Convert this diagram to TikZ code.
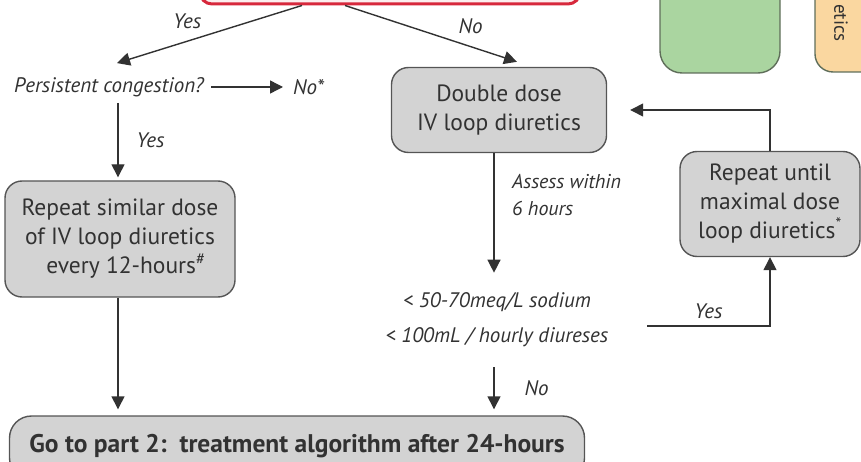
\documentclass[tikz,border=0pt]{standalone}
\usepackage{fontspec}
\setmainfont{PT Sans}
\usepackage{tikz}
\usetikzlibrary{arrows.meta,positioning,calc}
\definecolor{boxG}{RGB}{211,211,211}
\definecolor{edgeG}{RGB}{85,85,85}
\definecolor{alarmR}{RGB}{215,40,60}
\definecolor{leafG}{RGB}{170,213,160}
\definecolor{leafE}{RGB}{95,110,90}
\definecolor{sandO}{RGB}{250,215,160}
\definecolor{inkG}{RGB}{50,50,50}

\begin{document}
\begin{tikzpicture}[x=1pt, y=-1pt, >={Triangle[length=13pt,width=13pt]},
    stepbox/.style={draw=edgeG, line width=1.4pt, fill=boxG, rounded corners=17pt,
      align=center, text=inkG, font=\fontsize{23.5}{29}\selectfont, inner sep=2pt},
    lbl/.style={font=\fontsize{21}{25}\selectfont\itshape, text=inkG, inner sep=0pt},
    arr/.style={->, line width=1.4pt, draw=inkG}]
  \useasboundingbox (0,0) rectangle (861,462);
  % cut-off boxes along the top edge
  \node[draw=alarmR, line width=3pt, fill=alarmR!8, rounded corners=12pt,
        minimum width=380pt, minimum height=50pt] (top) at (390,-21) {};
  \fill[leafG, draw=leafE, line width=1.4pt, rounded corners=22pt] (660,-40) rectangle (780,73);
  \fill[sandO, draw=leafE, line width=1.4pt, rounded corners=18pt] (815,-40) rectangle (890,72);
  \node[rotate=-90, anchor=west, font=\fontsize{19}{20}\selectfont, text=inkG] (side) at (841,0.5) {etics};
  % main nodes
  \node[lbl] (q) at (109,87) {Persistent congestion?};
  \node[lbl, anchor=west] (nostar) at (293,87) {No*};
  \node[stepbox, minimum width=230pt, minimum height=116pt] (rep) at (120,239)
    {Repeat similar dose\\of IV loop diuretics\\\hspace*{12pt}every 12-hours\textsuperscript{\#}};
  \node[stepbox, minimum width=215pt, minimum height=85pt] (dbl) at (499,110)
    {Double dose\\IV loop diuretics};
  \node[lbl, align=center, font=\fontsize{21}{35}\selectfont\itshape] (crit) at (497,320)
    {< 50-70meq/L sodium\\< 100mL / hourly diureses};
  \node[stepbox, minimum width=180pt, minimum height=105pt] (until) at (770,204)
    {Repeat until\\maximal dose\\loop diuretics\textsuperscript{*}};
  \node[stepbox, font=\fontsize{25.5}{30}\selectfont\bfseries, minimum width=575pt,
        minimum height=64pt, rounded corners=22pt] (go) at (297,448)
    {\raisebox{10pt}{Go to part 2:\ \ treatment algorithm after 24-hours}};
  % connectors
  \draw[arr] ([xshift=-88]top.south) -- ([xshift=8,yshift=14]q.north)
    node[lbl, pos=0.62, above=12pt] {Yes};
  \draw[arr] ([xshift=-45]top.south) -- ([xshift=18,yshift=5]dbl.north)
    node[lbl, pos=0.73, above=12pt] {No};
  \draw[arr] ([xshift=7]q.east) -- ([xshift=-10]nostar.west);
  \draw[arr] ([xshift=-2,yshift=-6]rep.north |- q.south) -- ([xshift=-2,yshift=3]rep.north)
    node[lbl, midway, right=18pt] {Yes};
  \draw[arr] ([xshift=-2]rep.south) -- ([xshift=-2,yshift=6]rep.south |- go.north);
  \draw[arr] ([xshift=-5]dbl.south) -- ([xshift=-5,yshift=20]dbl.south |- crit.north);
  \node[lbl, align=left, anchor=north west, font=\fontsize{20}{27}\selectfont\itshape]
    (assess) at (512,174) {Assess within\\6 hours};
  \coordinate (yfrom) at (647,326);
  \draw[arr] (yfrom) -| (until.south) node[lbl, pos=0.25, above=7pt] {Yes};
  \draw[arr] (until.north) |- ([xshift=23]dbl.east);
  \draw[arr] ([xshift=-3,yshift=-20]crit.south) -- ([xshift=-3,yshift=6]crit.south |- go.north)
    node[lbl, midway, right=30pt] {No};
\end{tikzpicture}
\end{document}
